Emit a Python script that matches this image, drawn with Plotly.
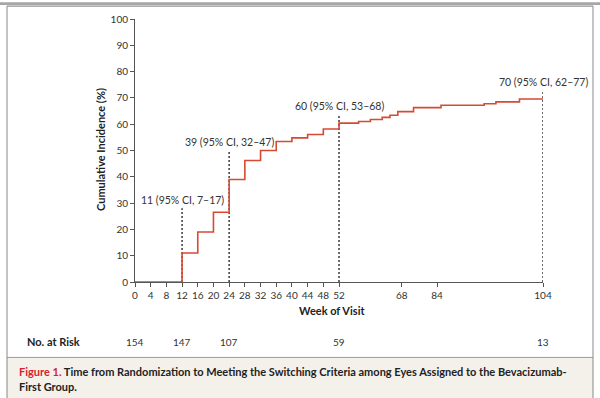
import plotly.graph_objects as go

# ---- data ----
weeks = [0, 12, 16, 20, 24, 28, 32, 36, 40, 44, 48, 52, 57, 60, 63, 65, 67, 71, 78, 89, 92, 98, 104]
incidence = [0, 11, 19, 26.5, 39, 46.2, 50, 53.4, 54.8, 56.1, 58.2, 60.4, 61.0, 61.8, 62.6, 63.4, 64.8,
             66.3, 67.2, 67.8, 68.5, 69.6, 69.6]

marker_weeks = [12, 24, 52, 104]
marker_line_tops = [28, 50, 63.7, 73]
marker_label_y = [31, 53.2, 66.8, 76]
marker_labels = ["11 (95% CI, 7\u201317)", "39 (95% CI, 32\u201347)",
                 "60 (95% CI, 53\u201368)", "70 (95% CI, 62\u201377)"]

x_tick_pos = [0, 4, 8, 12, 16, 20, 24, 28, 32, 36, 40, 44, 48, 52, 68, 77, 104]
x_tick_text = ["0", "4", "8", "12", "16", "20", "24", "28", "32", "36", "40", "44", "48", "52",
               "68", "84", "104"]
y_ticks = [0, 10, 20, 30, 40, 50, 60, 70, 80, 90, 100]

risk_weeks = [0, 12, 24, 52, 104]
risk_counts = ["154", "147", "107", "59", "13"]

# ---- layout geometry (pixels) ----
W, H = 600, 398
L, R, T, B = 135, 543, 17, 282
def px(x):
    return (x - L) / (R - L)
def py(y):
    return (B - y) / (B - T)

FONT = "Lato"
RED = "#d64a33"
AX = "#555555"

fig = go.Figure()
fig.add_trace(go.Scatter(x=weeks, y=incidence, mode="lines", line_shape="hv",
                         line=dict(color=RED, width=1.6), hoverinfo="skip", showlegend=False))

shapes = []
annotations = []
for wk, top, ly, lab in zip(marker_weeks, marker_line_tops, marker_label_y, marker_labels):
    shapes.append(dict(type="line", xref="x", yref="y", x0=wk, x1=wk, y0=0, y1=top,
                       line=dict(color="#3a3a3a", width=1.5, dash="2px,2px"), layer="below"))
    annotations.append(dict(x=wk, y=ly, xref="x", yref="y", text=lab, showarrow=False,
                            font=dict(family=FONT, size=10.5, color="#333333"),
                            xanchor="center", yanchor="middle"))

# risk table
annotations.append(dict(x=px(25), y=py(342), xref="paper", yref="paper", text="<b>No. at Risk</b>",
                        showarrow=False, xanchor="left", yanchor="middle",
                        font=dict(family=FONT, size=11, color="#222222")))
for wk, n in zip(risk_weeks, risk_counts):
    annotations.append(dict(x=wk, y=py(342), xref="x", yref="paper", text=n, showarrow=False,
                            xanchor="center", yanchor="middle",
                            font=dict(family=FONT, size=10, color="#333333")))

# axis titles
annotations.append(dict(x=px(332), y=py(311), xref="paper", yref="paper", text="<b>Week of Visit</b>",
                        showarrow=False, xanchor="center", yanchor="middle",
                        font=dict(family=FONT, size=11, color="#222222")))
annotations.append(dict(x=px(100), y=py(149), xref="paper", yref="paper",
                        text="<b>Cumulative Incidence (%)</b>", textangle=-90,
                        showarrow=False, xanchor="center", yanchor="middle",
                        font=dict(family=FONT, size=11, color="#222222")))

# caption
annotations.append(dict(x=px(17), y=py(372), xref="paper", yref="paper",
                        text="<b><span style='color:#d7222e'>Figure 1.</span> Time from Randomization to Meeting the Switching Criteria among Eyes Assigned to the Bevacizumab-</b>",
                        showarrow=False, xanchor="left", yanchor="middle",
                        font=dict(family=FONT, size=11, color="#222222")))
annotations.append(dict(x=px(17), y=py(387), xref="paper", yref="paper",
                        text="<b>First Group.</b>",
                        showarrow=False, xanchor="left", yanchor="middle",
                        font=dict(family=FONT, size=11, color="#222222")))

# frame
shapes += [
    dict(type="rect", xref="paper", yref="paper", x0=px(7), x1=px(593), y0=py(358), y1=py(400),
         fillcolor="#f4f1ea", line=dict(width=0), layer="below"),
    dict(type="line", xref="paper", yref="paper", x0=px(7), x1=px(593), y0=py(358), y1=py(358),
         line=dict(color="#9a9a9a", width=1)),
    dict(type="rect", xref="paper", yref="paper", x0=px(0), x1=px(600), y0=py(0), y1=py(3),
         fillcolor="#a6a6a6", line=dict(width=0)),
    dict(type="line", xref="paper", yref="paper", x0=px(7), x1=px(593), y0=py(4), y1=py(4),
         line=dict(color="#777777", width=1)),
    dict(type="line", xref="paper", yref="paper", x0=px(7), x1=px(7), y0=py(4), y1=py(400),
         line=dict(color="#888888", width=1)),
    dict(type="line", xref="paper", yref="paper", x0=px(593), x1=px(593), y0=py(4), y1=py(400),
         line=dict(color="#888888", width=1)),
]

fig.update_layout(
    width=W, height=H, autosize=False,
    margin=dict(l=L, r=W - R, t=T, b=H - B, pad=0),
    paper_bgcolor="white", plot_bgcolor="white",
    shapes=shapes, annotations=annotations, showlegend=False,
    font=dict(family=FONT, size=10, color="#333333"),
    xaxis=dict(range=[0, 104], tickmode="array", tickvals=x_tick_pos, ticktext=x_tick_text,
               showgrid=False, zeroline=False, showline=True, linecolor=AX, linewidth=1,
               ticks="outside", ticklen=4, tickcolor=AX, tickwidth=1,
               tickfont=dict(family=FONT, size=10, color="#333333"), fixedrange=True),
    yaxis=dict(range=[0, 100], tickmode="array", tickvals=y_ticks,
               showgrid=False, zeroline=False, showline=True, linecolor=AX, linewidth=1,
               ticks="outside", ticklen=4, tickcolor=AX, tickwidth=1,
               tickfont=dict(family=FONT, size=10, color="#333333"), fixedrange=True),
)

fig.write_html("out.html", config={"displayModeBar": False},
               post_script="document.body.style.margin='0px';document.body.style.overflow='hidden';")
